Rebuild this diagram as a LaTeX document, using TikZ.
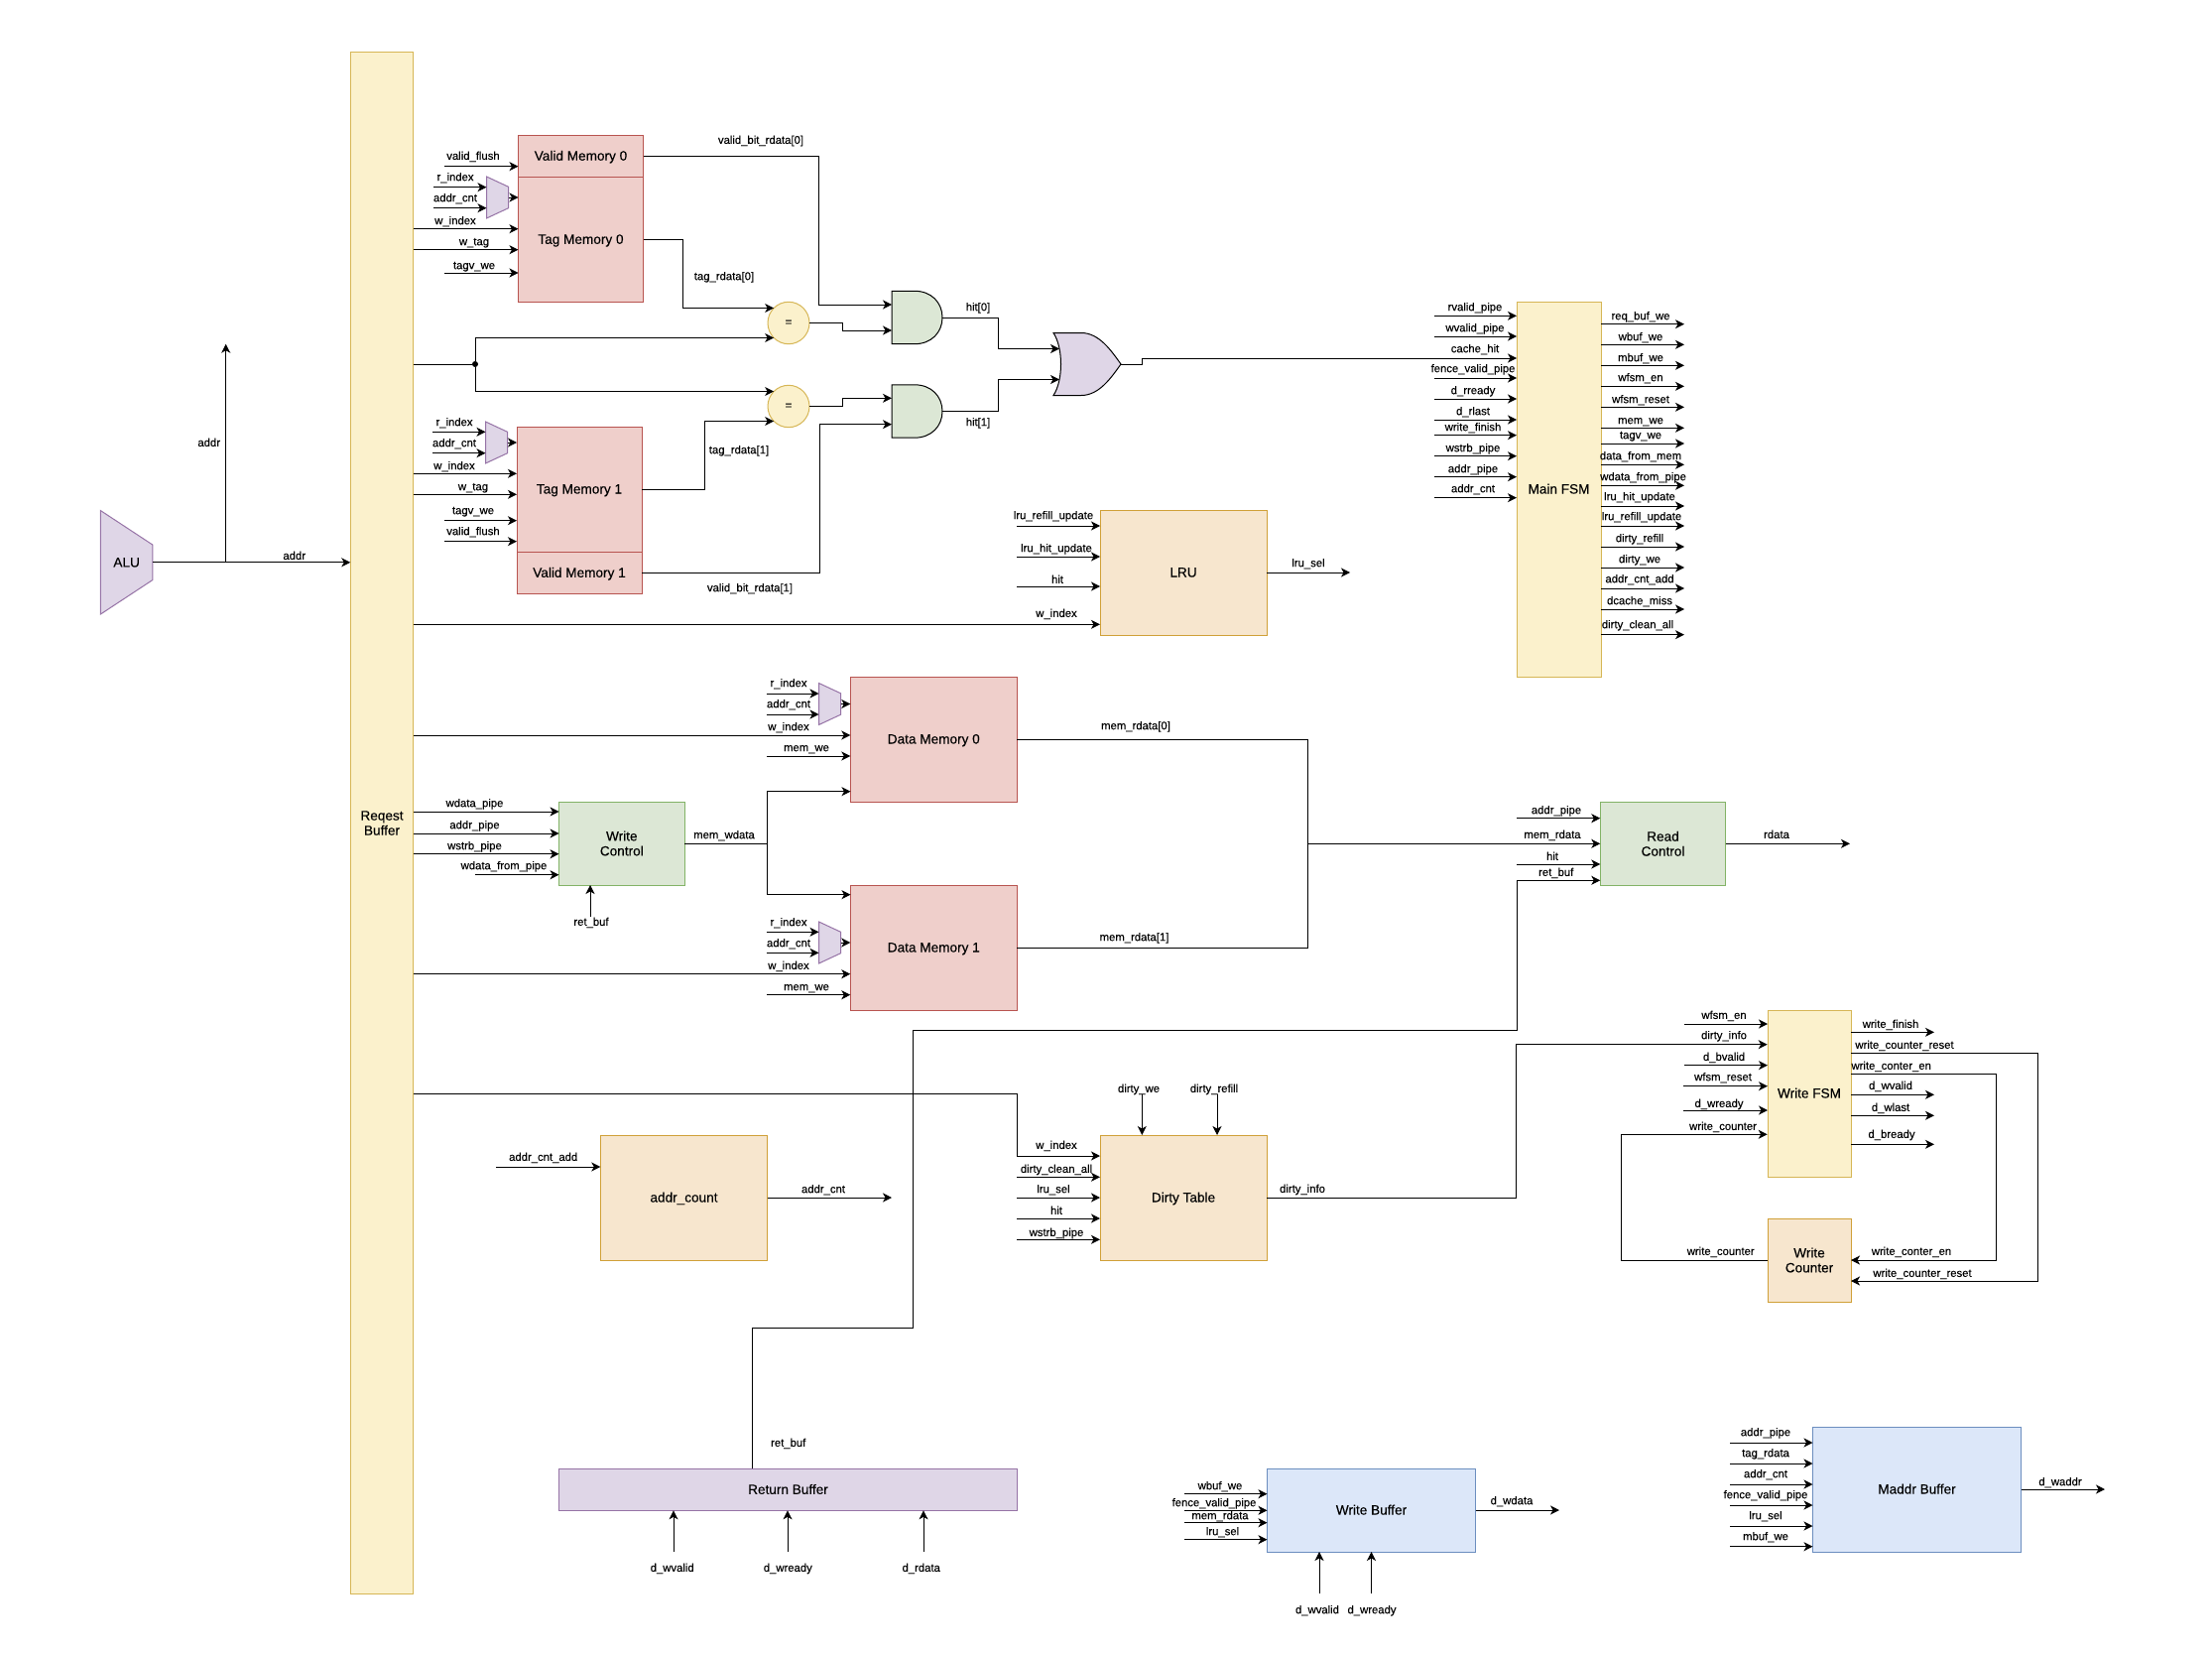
\documentclass[tikz,border=0pt]{standalone}
\usepackage{fontspec}
\setmainfont[FakeBold=0.12]{Liberation Sans}
\usepackage{xcolor}
\usetikzlibrary{arrows.meta,shapes.geometric}

\definecolor{yelf}{HTML}{FBF1CC}
\definecolor{yeld}{HTML}{D6B656}
\definecolor{redf}{HTML}{EFCFCB}
\definecolor{redd}{HTML}{B85450}
\definecolor{grnf}{HTML}{DCE7D5}
\definecolor{grnd}{HTML}{82B366}
\definecolor{orgf}{HTML}{F7E6CE}
\definecolor{orgd}{HTML}{D0A038}
\definecolor{bluf}{HTML}{DCE7F9}
\definecolor{blud}{HTML}{6C8EBF}
\definecolor{purf}{HTML}{DFD6E7}
\definecolor{purd}{HTML}{9673A6}

\begin{document}
\begin{tikzpicture}[
  x=1pt,y=-1pt,
  box/.style={draw,line width=1pt,align=center,inner sep=0pt,outer sep=0pt,
              font=\fontsize{13.6}{15}\selectfont},
  oneline/.style={text height=10pt,text depth=1pt},
  yelbox/.style={box,fill=yelf,draw=yeld},
  membox/.style={box,fill=redf,draw=redd,oneline},
  grnbox/.style={box,fill=grnf,draw=grnd},
  orgbox/.style={box,fill=orgf,draw=orgd},
  blubox/.style={box,fill=bluf,draw=blud,oneline},
  purbox/.style={box,fill=purf,draw=purd},
  mux/.style={trapezium,draw=purd,fill=purf,line width=1pt,inner sep=1pt,outer sep=0pt,
              shape border rotate=270,trapezium stretches=true,
              trapezium left angle=64.5,trapezium right angle=64.5,
              minimum width=42pt,minimum height=22pt},
  eqnode/.style={ellipse,draw=yeld,fill=yelf,line width=1pt,inner sep=0pt,outer sep=0pt,
                 minimum width=42pt,minimum height=42.4pt,font=\fontsize{11.3}{13}\selectfont},
  gatebox/.style={inner sep=0pt,outer sep=0pt},
  gateline/.style={draw=black,line width=1pt},
  wire/.style={line width=1pt},
  flow/.style={wire,-{Stealth[length=9pt,width=9pt,inset=2.5pt]}},
  lbl/.style={font=\fontsize{11.3}{13}\selectfont,inner sep=0pt,text height=8pt,text depth=2pt,
              yshift=-1.2pt}]

\useasboundingbox (0,0) rectangle (2230,1667);

% ---- blocks ------------------------------------------------------------
\node[purbox,inner sep=1pt,trapezium,shape border rotate=270,trapezium stretches=true,
      trapezium left angle=68.4,trapezium right angle=68.4,
      minimum width=105pt,minimum height=52.7pt] (alu) at (127.6,566.8) {ALU};
\node[yelbox,minimum width=63.4pt,minimum height=1553pt] (reqbuf) at (385,829.5) {Reqest\\Buffer};

\node[membox,minimum width=126pt,minimum height=42pt]  (vm0)  at (585.5,157.2) {Valid Memory 0};
\node[membox,minimum width=126pt,minimum height=126pt] (tag0) at (585.5,241.3) {Tag Memory 0};
\node[membox,minimum width=126pt,minimum height=126pt] (tag1) at (584,493) {Tag Memory 1};
\node[membox,minimum width=126pt,minimum height=42.6pt] (vm1) at (584,577.3) {Valid Memory 1};
\node[mux] (mux0) at (501.5,199) {};
\node[mux] (mux1) at (500.5,446) {};

\node[eqnode] (eq0) at (795,325.5) {=};
\node[eqnode] (eq1) at (795,409.5) {=};

% gates are outlined over plain boxes
\node[gatebox,minimum width=51pt,minimum height=53.4pt] (and0) at (924.5,320) {};
\node[gatebox,minimum width=51pt,minimum height=53.4pt] (and1) at (924.5,414.5) {};
\node[gatebox,minimum width=68pt,minimum height=63pt]   (or0)  at (1096,367) {};
\foreach \g in {and0,and1} {
  \draw[gateline,fill=grnf] (\g.north west) -- ++(23,0)
    .. controls +(17,0) and +(0,-15) .. ++(28,26.7)
    .. controls +(0,15) and +(17,0) .. ++(-28,26.7) -- ++(-23,0) -- cycle;
}
\draw[gateline,fill=purf] (or0.north west) -- ++(28,0)
  .. controls +(18,0) and +(-10,-14) .. ++(40,31.5)
  .. controls +(-10,14) and +(18,0) .. ++(-40,31.5) -- ++(-28,0)
  .. controls +(10,-15) and +(10,15) .. ++(0,-63) -- cycle;

\node[yelbox,oneline,minimum width=85pt,minimum height=378pt] (fsm) at (1571.5,493) {Main FSM};
\node[orgbox,oneline,minimum width=168pt,minimum height=126pt] (lru) at (1193,577) {LRU};

\node[membox,minimum width=168pt,minimum height=126pt] (dm0) at (941.3,745) {Data Memory 0};
\node[membox,minimum width=168pt,minimum height=126pt] (dm1) at (941.3,955) {Data Memory 1};
\node[mux] (dmux0) at (836.5,709.5) {};
\node[mux] (dmux1) at (836.5,950) {};
\node[grnbox,minimum width=126.5pt,minimum height=84pt] (wc) at (626.8,850) {Write\\Control};
\node[grnbox,minimum width=126.4pt,minimum height=84pt] (rc) at (1676.5,850.3) {Read\\Control};

\node[yelbox,oneline,minimum width=84pt,minimum height=168pt] (wf) at (1824,1102) {Write FSM};
\node[orgbox,minimum width=84pt,minimum height=84pt] (wcnt) at (1824,1270) {Write\\Counter};
\node[orgbox,oneline,minimum width=168pt,minimum height=126pt] (dt) at (1193,1207) {Dirty Table};
\node[orgbox,oneline,minimum width=168.4pt,minimum height=126pt] (ac) at (689.5,1207) {addr\_count};

\node[purbox,oneline,minimum width=462.4pt,minimum height=42pt] (rb) at (794.5,1501.3) {Return Buffer};
\node[blubox,minimum width=210pt,minimum height=84pt] (wb) at (1382.5,1522) {Write Buffer};
\node[blubox,minimum width=210pt,minimum height=126pt] (mb) at (1932.5,1501) {Maddr Buffer};

% ---- ALU ---------------------------------------------------------------
\coordinate (aluj) at (227.7,566.8);
\coordinate (aluup) at (227.7,346.7);
\draw[flow] (alu.east) -- (reqbuf.west |- alu.east);
\draw[flow] (aluj) -- (aluup);
\node[lbl] (alul0) at (210.7,445.7) {addr};
\node[lbl] (alul1) at (296.7,559.7) {addr};

% ---- tag and valid memories --------------------------------------------
\foreach \yy/\lx/\ly/\txt [count=\k] in {
    188.7/459/178/r\_index, 209.7/459/199/addr\_cnt} {
  \coordinate (mz\k) at (437,\yy);
  \draw[flow] (mz\k) -- (mz\k -| mux0.west);
  \node[lbl] (mzl\k) at (\lx,\ly) {\txt};
}
\foreach \yy/\lx/\ly/\txt [count=\k] in {
    435.3/458/425/r\_index, 456.7/458/446/addr\_cnt} {
  \coordinate (mo\k) at (436,\yy);
  \draw[flow] (mo\k) -- (mo\k -| mux1.west);
  \node[lbl] (mol\k) at (\lx,\ly) {\txt};
}
\draw[flow] (mux0.east) -- (mux0.east -| tag0.west);
\draw[flow] (mux1.east) -- (mux1.east -| tag1.west);

\foreach \yy/\lx/\ly/\txt [count=\k] in {
    167.7/477/156.7/valid\_flush, 275/478/267/tagv\_we} {
  \coordinate (ta\k) at (448,\yy);
  \draw[flow] (ta\k) -- (ta\k -| tag0.west);
  \node[lbl] (tal\k) at (\lx,\ly) {\txt};
}
\foreach \yy/\lx/\ly/\txt [count=\k] in {
    230.7/459/222/w\_index, 251.7/478/243/w\_tag} {
  \coordinate (tb\k) at (416.7,\yy);
  \draw[flow] (tb\k) -- (tb\k -| tag0.west);
  \node[lbl] (tbl\k) at (\lx,\ly) {\txt};
}
\foreach \yy/\lx/\ly/\txt [count=\k] in {
    477.3/458/469/w\_index, 498.3/477/490/w\_tag} {
  \coordinate (tc\k) at (416.7,\yy);
  \draw[flow] (tc\k) -- (tc\k -| tag1.west);
  \node[lbl] (tcl\k) at (\lx,\ly) {\txt};
}
\foreach \yy/\lx/\ly/\txt [count=\k] in {
    524.7/477/514/tagv\_we, 545.7/477/535/valid\_flush} {
  \coordinate (td\k) at (448,\yy);
  \draw[flow] (td\k) -- (td\k -| tag1.west);
  \node[lbl] (tdl\k) at (\lx,\ly) {\txt};
}

% ---- hit logic ---------------------------------------------------------
\draw[flow] (vm0.east) -- ++(177,0) |- ([yshift=13pt]and0.west);
\draw[flow] (tag0.east) -- ++(40,0) |- (eq0.north west);
\draw[flow] (tag1.east) -- ++(63,0) |- (eq1.south west);
\draw[flow] (vm1.east) -- ++(179,0) |- ([yshift=-13.2pt]and1.west);
\node[circle,fill=black,inner sep=0pt,minimum size=6pt] (sel) at (479,367) {};
\draw[wire] (reqbuf.east |- sel) -- (sel);
\draw[flow] (sel) |- (eq0.south west);
\draw[flow] (sel) |- (eq1.north west);
\draw[flow] (eq0.east) -- ++(33,0) |- ([yshift=-13pt]and0.west);
\draw[flow] (eq1.east) -- ++(33,0) |- ([yshift=13.2pt]and1.west);
\draw[flow] (and0.east) -- ++(56,0) |- ([xshift=6pt,yshift=15.5pt]or0.west);
\draw[flow] (and1.east) -- ++(56,0) |- ([xshift=6pt,yshift=-15.5pt]or0.west);
\coordinate (fsmhit) at (1529,361);
\draw[flow] (or0.east) -- ++(21.5,0) |- (fsmhit);

\node[lbl] (vbl0) at (767,140.7) {valid\_bit\_rdata[0]};
\node[lbl] (vbl1) at (756,592) {valid\_bit\_rdata[1]};
\node[lbl] (trl0) at (730,278) {tag\_rdata[0]};
\node[lbl] (trl1) at (745,453) {tag\_rdata[1]};
\node[lbl] (hl0) at (986,309) {hit[0]};
\node[lbl] (hl1) at (986,425) {hit[1]};

% ---- main FSM ----------------------------------------------------------
\foreach \yy/\lx/\ly/\txt [count=\k] in {
    318.3/1487/309/rvalid\_pipe, 339/1487/330/wvalid\_pipe,
    381/1485/371/fence\_valid\_pipe, 402/1485/393/d\_rready,
    423/1485/414/d\_rlast, 438.7/1485/430/write\_finish,
    459.7/1485/451/wstrb\_pipe, 480.7/1485/472/addr\_pipe,
    501.7/1485/492/addr\_cnt} {
  \coordinate (fi\k) at (1446,\yy);
  \draw[flow] (fi\k) -- (fi\k -| fsm.west);
  \node[lbl] (fil\k) at (\lx,\ly) {\txt};
}
\node[lbl] (fih) at (1487,351) {cache\_hit};
\foreach \yy/\lx/\ly/\txt [count=\k] in {
    326.7/1654/318/req\_buf\_we, 347.3/1654/339/wbuf\_we,
    368.3/1654/360/mbuf\_we, 389.3/1654/380/wfsm\_en,
    410.3/1654/402/wfsm\_reset, 431.3/1654/423/mem\_we,
    447/1654/438/tagv\_we, 468.3/1654/459/data\_from\_mem,
    489.3/1656.6/480/wdata\_from\_pipe, 510/1653/500/lru\_hit\_update,
    530/1655/520/lru\_refill\_update, 551/1653/542/dirty\_refill,
    572/1653/563/dirty\_we, 593/1653/583/addr\_cnt\_add,
    614/1653/605/dcache\_miss, 639.7/1651/629/dirty\_clean\_all} {
  \coordinate (fo\k) at (1698,\yy);
  \draw[flow] (fo\k -| fsm.east) -- (fo\k);
  \node[lbl] (fol\k) at (\lx,\ly) {\txt};
}

% ---- LRU ---------------------------------------------------------------
\foreach \yy/\lx/\ly/\txt [count=\k] in {
    530/1062/519/lru\_refill\_update, 561/1065/552/lru\_hit\_update,
    591/1066/583.7/hit} {
  \coordinate (li\k) at (1025,\yy);
  \draw[flow] (li\k) -- (li\k -| lru.west);
  \node[lbl] (lil\k) at (\lx,\ly) {\txt};
}
\coordinate (lw) at (416.7,629.3);
\draw[flow] (lw) -- (lw -| lru.west);
\node[lbl] (lwl) at (1065,617.7) {w\_index};
\coordinate (lo) at (1361,577);
\draw[flow] (lru.east) -- (lo);
\node[lbl] (lol) at (1319,567) {lru\_sel};

% ---- data memories -----------------------------------------------------
\foreach \yy/\lx/\ly/\txt [count=\k] in {
    699/795/688/r\_index, 720/795/709/addr\_cnt} {
  \coordinate (dz\k) at (772.5,\yy);
  \draw[flow] (dz\k) -- (dz\k -| dmux0.west);
  \node[lbl] (dzl\k) at (\lx,\ly) {\txt};
}
\foreach \yy/\lx/\ly/\txt [count=\k] in {
    939.3/795/929/r\_index, 960.3/795/950/addr\_cnt} {
  \coordinate (do\k) at (772.5,\yy);
  \draw[flow] (do\k) -- (do\k -| dmux1.west);
  \node[lbl] (dol\k) at (\lx,\ly) {\txt};
}
\draw[flow] (dmux0.east) -- (dmux0.east -| dm0.west);
\draw[flow] (dmux1.east) -- (dmux1.east -| dm1.west);
\coordinate (dw0) at (416.7,741);
\coordinate (dw1) at (416.7,981.7);
\draw[flow] (dw0) -- (dw0 -| dm0.west);
\draw[flow] (dw1) -- (dw1 -| dm1.west);
\node[lbl] (dwl0) at (795,732) {w\_index};
\node[lbl] (dwl1) at (795,972.7) {w\_index};
\coordinate (dm0we) at (773,762);
\coordinate (dm1we) at (773,1002.7);
\draw[flow] (dm0we) -- (dm0we -| dm0.west);
\draw[flow] (dm1we) -- (dm1we -| dm1.west);
\node[lbl] (dml0) at (813,753) {mem\_we};
\node[lbl] (dml1) at (813,994) {mem\_we};

\coordinate (wj) at (773,850);
\coordinate (dm0d) at (857.5,797.7);
\coordinate (dm1d) at (857.5,901.7);
\draw[wire] (wc.east) -- (wj);
\draw[flow] (wj) |- (dm0d);
\draw[flow] (wj) |- (dm1d);
\node[lbl] (wjl) at (730,841) {mem\_wdata};

\coordinate (mrj) at (1318.5,850.3);
\draw[wire] (dm0.east) -| (mrj);
\draw[wire] (dm1.east) -| (mrj);
\draw[flow] (mrj) -- (rc.west);
\node[lbl] (mrl0) at (1145,731) {mem\_rdata[0]};
\node[lbl] (mrl1) at (1143.5,944) {mem\_rdata[1]};
\node[lbl] (mrl) at (1565,840.7) {mem\_rdata};

% ---- write control -----------------------------------------------------
\foreach \yy/\lx/\ly/\txt [count=\k] in {
    818/478.5/809/wdata\_pipe, 840/478.5/831/addr\_pipe, 860.7/478.5/852/wstrb\_pipe} {
  \coordinate (wi\k) at (416.7,\yy);
  \draw[flow] (wi\k) -- (wi\k -| wc.west);
  \node[lbl] (wil\k) at (\lx,\ly) {\txt};
}
\coordinate (wi4) at (479,881.7);
\draw[flow] (wi4) -- (wi4 -| wc.west);
\node[lbl] (wil4) at (508,872) {wdata\_from\_pipe};
\coordinate (wr) at (595,924);
\draw[flow] (wr) -- (wr |- wc.south);
\node[lbl] (wrl) at (596,928.7) {ret\_buf};

% ---- read control ------------------------------------------------------
\foreach \yy/\lx/\ly/\txt [count=\k] in {
    824.7/1569/816/addr\_pipe, 871/1565/862.7/hit} {
  \coordinate (ri\k) at (1529,\yy);
  \draw[flow] (ri\k) -- (ri\k -| rc.west);
  \node[lbl] (ril\k) at (\lx,\ly) {\txt};
}
\coordinate (ro) at (1865,850.3);
\draw[flow] (rc.east) -- (ro);
\node[lbl] (rol) at (1791,840.7) {rdata};
\node[lbl] (rrl) at (1568.7,878.7) {ret\_buf};

% ---- return buffer -----------------------------------------------------
\coordinate (rbo) at (758.7,1480.3);
\coordinate (rcb) at (1613.3,887.3);
\draw[flow] (rbo) -- ++(0,-142.3) -- ++(161.3,0) -- ++(0,-300) -- ++(609,0) |- (rcb);
\node[lbl] (rbl) at (794.7,1453.7) {ret\_buf};
\foreach \xx/\lx/\txt [count=\k] in {
    679/677.7/d\_wvalid, 794/794.3/d\_wready, 931/928.7/d\_rdata} {
  \coordinate (ra\k) at (\xx,1564.3);
  \draw[flow] (ra\k) -- (ra\k |- rb.south);
  \node[lbl] (ral\k) at (\lx,1579.7) {\txt};
}

% ---- addr_count and dirty table ----------------------------------------
\coordinate (aci) at (500,1176);
\coordinate (aco) at (899,1207);
\draw[flow] (aci) -- (aci -| ac.west);
\draw[flow] (ac.east) -- (aco);
\node[lbl] (acil) at (547.7,1165.7) {addr\_cnt\_add};
\node[lbl] (acol) at (830,1198) {addr\_cnt};

\coordinate (dtr) at (416.7,1102.7);
\coordinate (dtw) at (1109,1165);
\draw[flow] (dtr) -- ++(608.6,0) |- (dtw);
\node[lbl] (dtwl) at (1065,1153.7) {w\_index};
\foreach \yy/\lx/\ly/\txt [count=\k] in {
    1186.3/1065/1177.7/dirty\_clean\_all, 1207/1062/1198/lru\_sel,
    1228/1065/1219.7/hit, 1249.3/1065/1241.7/wstrb\_pipe} {
  \coordinate (di\k) at (1025.3,\yy);
  \draw[flow] (di\k) -- (di\k -| dt.west);
  \node[lbl] (dil\k) at (\lx,\ly) {\txt};
}
\foreach \xx/\lx/\txt [count=\k] in {
    1151.3/1148/dirty\_we, 1227/1224/dirty\_refill} {
  \coordinate (dv\k) at (\xx,1102.7);
  \draw[flow] (dv\k) -- (dv\k |- dt.north);
  \node[lbl] (dvl\k) at (\lx,1096.7) {\txt};
}
\coordinate (wfd) at (1781.7,1052.7);
\draw[flow] (dt.east) -- ++(251.7,0) |- (wfd);
\node[lbl] (dtol) at (1313,1197.7) {dirty\_info};

% ---- write FSM and counter ---------------------------------------------
\foreach \yy/\xs/\lx/\ly/\txt [count=\k] in {
    1032/1698/1738/1022.7/wfsm\_en, 1073.7/1698/1738/1064.7/d\_bvalid,
    1094.7/1697/1737/1085/wfsm\_reset, 1119/1697/1733/1111.7/d\_wready} {
  \coordinate (wq\k) at (\xs,\yy);
  \draw[flow] (wq\k) -- (wq\k -| wf.west);
  \node[lbl] (wql\k) at (\lx,\ly) {\txt};
}
\node[lbl] (wfdl) at (1738,1043) {dirty\_info};
\foreach \yy/\lx/\ly/\txt [count=\k] in {
    1040.3/1906/1031.7/write\_finish, 1103.3/1906/1093.7/d\_wvalid,
    1124.3/1906/1115.7/d\_wlast, 1153.3/1907/1142.7/d\_bready} {
  \coordinate (wp\k) at (1950,\yy);
  \draw[flow] (wp\k -| wf.east) -- (wp\k);
  \node[lbl] (wpl\k) at (\lx,\ly) {\txt};
}
\coordinate (wfc) at (1781.7,1143.3);
\coordinate (wfr) at (1866,1061.3);
\coordinate (wfe) at (1866,1082.3);
\coordinate (wcr) at (1866,1291);
\draw[flow] (wcnt.west) -- ++(-147.3,0) |- (wfc);
\draw[flow] (wfr) -- ++(188,0) |- (wcr);
\draw[flow] (wfe) -- ++(146,0) |- (wcnt.east);
\node[lbl] (wfcl) at (1737,1134.7) {write\_counter};
\node[lbl] (wcnl) at (1734.7,1260.7) {write\_counter};
\node[lbl] (wfrl) at (1920,1052.7) {write\_counter\_reset};
\node[lbl] (wfel) at (1906.7,1073.7) {write\_conter\_en};
\node[lbl] (wcel) at (1927,1260.7) {write\_conter\_en};
\node[lbl] (wcrl) at (1938,1282.7) {write\_counter\_reset};

% ---- write buffer ------------------------------------------------------
\foreach \yy/\lx/\ly/\txt [count=\k] in {
    1505.7/1230/1497/wbuf\_we, 1522.3/1224/1514/fence\_valid\_pipe,
    1534.7/1230/1527/mem\_rdata, 1551.7/1232.5/1543/lru\_sel} {
  \coordinate (bi\k) at (1194,\yy);
  \draw[flow] (bi\k) -- (bi\k -| wb.west);
  \node[lbl] (bil\k) at (\lx,\ly) {\txt};
}
\foreach \xx/\lx/\txt [count=\k] in {1330/1328/d\_wvalid, 1382.5/1383/d\_wready} {
  \coordinate (bv\k) at (\xx,1606);
  \draw[flow] (bv\k) -- (bv\k |- wb.south);
  \node[lbl] (bvl\k) at (\lx,1622) {\txt};
}
\coordinate (bo) at (1572,1522);
\draw[flow] (wb.east) -- (bo);
\node[lbl] (bol) at (1524,1512) {d\_wdata};

% ---- maddr buffer ------------------------------------------------------
\foreach \yy/\ly/\txt [count=\k] in {
    1454/1443/addr\_pipe, 1475/1464/tag\_rdata, 1496/1485/addr\_cnt,
    1517/1506/fence\_valid\_pipe, 1538/1527/lru\_sel, 1558.7/1548/mbuf\_we} {
  \coordinate (mi\k) at (1744,\yy);
  \draw[flow] (mi\k) -- (mi\k -| mb.west);
  \node[lbl] (mil\k) at (1780,\ly) {\txt};
}
\coordinate (mo) at (2122,1501);
\draw[flow] (mb.east) -- (mo);
\node[lbl] (mol) at (2077,1493) {d\_waddr};
\end{tikzpicture}
\end{document}
